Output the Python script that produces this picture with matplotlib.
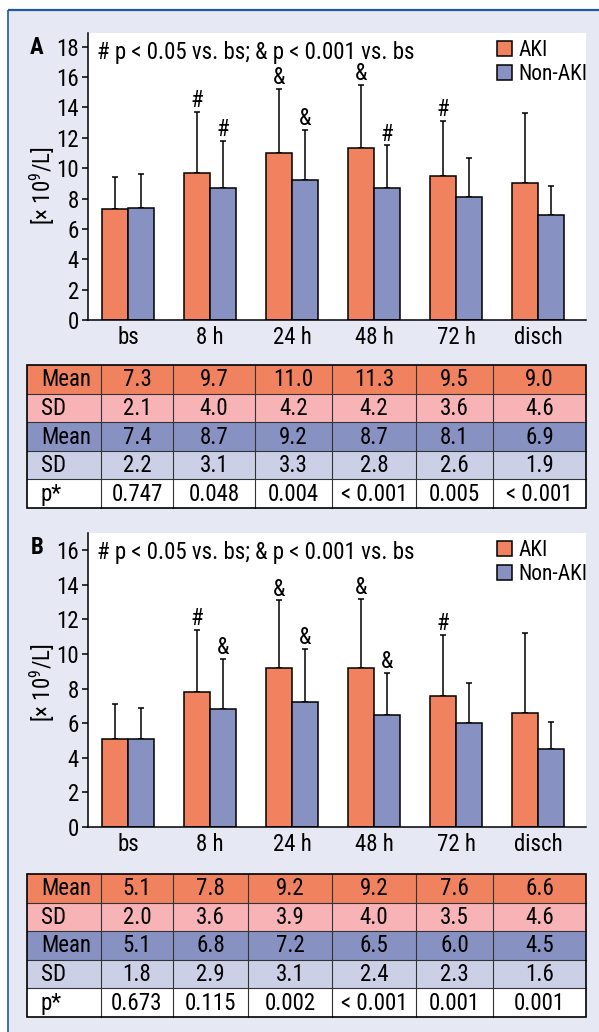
import matplotlib
matplotlib.use("Agg")
import matplotlib.pyplot as plt
from matplotlib.patches import Rectangle, Patch
import numpy as np

plt.rcParams['font.family'] = ['Roboto Condensed', 'Liberation Sans', 'DejaVu Sans']
plt.rcParams['mathtext.fontset'] = 'custom'
plt.rcParams['mathtext.rm'] = 'Roboto Condensed'

# ---------------- data ----------------
categories = ["bs", "8 h", "24 h", "48 h", "72 h", "disch"]

a_aki_mean = [7.3, 9.7, 11.0, 11.3, 9.5, 9.0]
a_aki_sd = [2.1, 4.0, 4.2, 4.2, 3.6, 4.6]
a_non_mean = [7.4, 8.7, 9.2, 8.7, 8.1, 6.9]
a_non_sd = [2.2, 3.1, 3.3, 2.8, 2.6, 1.9]
a_p = ["0.747", "0.048", "0.004", "< 0.001", "0.005", "< 0.001"]
a_aki_marks = ["", "#", "&", "&", "#", ""]
a_non_marks = ["", "#", "&", "#", "", ""]

b_aki_mean = [5.1, 7.8, 9.2, 9.2, 7.6, 6.6]
b_aki_sd = [2.0, 3.6, 3.9, 4.0, 3.5, 4.6]
b_non_mean = [5.1, 6.8, 7.2, 6.5, 6.0, 4.5]
b_non_sd = [1.8, 2.9, 3.1, 2.4, 2.3, 1.6]
b_p = ["0.673", "0.115", "0.002", "< 0.001", "0.001", "0.001"]
b_aki_marks = ["", "#", "&", "&", "#", ""]
b_non_marks = ["", "&", "&", "&", "", ""]

yticks_a = [0, 2, 4, 6, 8, 10, 12, 14, 16, 18]
yticks_b = [0, 2, 4, 6, 8, 10, 12, 14, 16]
series_names = ["AKI", "Non-AKI"]
note = "# p < 0.05 vs. bs; & p < 0.001 vs. bs"
ylabel = "[× 10$^{9}$/L]"

# ---------------- style ----------------
W, H = 599, 1032
C_AKI = "#f0825f"
C_NON = "#8792c3"
C_AKI_SD = "#f7b3b6"
C_NON_SD = "#cbd0e7"
C_BG = "#e6e8f4"
C_BLUE = "#1f58a5"
FS = 16.5
FT = 16.5
FL = 15.5

fig = plt.figure(figsize=(W / 100, H / 100), dpi=100)
fig.patch.set_facecolor("white")

bg = fig.add_axes([0, 0, 1, 1], zorder=-5)
bg.set_xlim(0, W)
bg.set_ylim(H, 0)
bg.axis("off")
bg.add_patch(Rectangle((8, 10), W - 8, H - 10, facecolor=C_BG, edgecolor="none"))
bg.plot([8, W], [10, 10], color=C_BLUE, lw=1.6, solid_capstyle="butt")
bg.plot([8, 8], [10, H], color=C_BLUE, lw=1.2, solid_capstyle="butt")


def px_axes(x0, y0, x1, y1):
    return fig.add_axes([x0 / W, 1 - y1 / H, (x1 - x0) / W, (y1 - y0) / H])


def draw_panel(top, bottom, ymax, yticks, aki_m, aki_s, non_m, non_s, aki_mk, non_mk,
               letter, ylab_y):
    ax = px_axes(88, top, 586, bottom)
    x = np.arange(len(categories))
    w = 0.317
    ax.bar(x - w / 2, aki_m, width=w, color=C_AKI, edgecolor="black", linewidth=1.1, zorder=2)
    ax.bar(x + w / 2, non_m, width=w, color=C_NON, edgecolor="black", linewidth=1.1, zorder=2)
    ax.errorbar(x - w / 2, aki_m, yerr=[np.zeros(len(x)), aki_s], fmt="none",
                ecolor="black", elinewidth=1.1, capsize=2.5, capthick=1.1, zorder=1)
    ax.errorbar(x + w / 2, non_m, yerr=[np.zeros(len(x)), non_s], fmt="none",
                ecolor="black", elinewidth=1.1, capsize=2.5, capthick=1.1, zorder=1)
    for i in range(len(x)):
        if aki_mk[i]:
            ax.annotate(aki_mk[i], (x[i] - w / 2, aki_m[i] + aki_s[i]), xytext=(0, 3.5),
                        textcoords="offset points", ha="center", va="baseline", fontsize=FS)
        if non_mk[i]:
            ax.annotate(non_mk[i], (x[i] + w / 2, non_m[i] + non_s[i]), xytext=(0, 3.5),
                        textcoords="offset points", ha="center", va="baseline", fontsize=FS)
    ax.set_xlim(-0.488, 5.585)
    ax.set_ylim(0, ymax)
    ax.set_xticks(x)
    ax.set_xticklabels(categories, fontsize=FS)
    ax.set_yticks(yticks)
    ax.set_yticklabels([str(t) for t in yticks], fontsize=FS)
    ax.tick_params(axis="x", length=0, pad=4)
    ax.tick_params(axis="y", length=4.5, width=1.1, pad=2, direction="out")
    for s in ["top", "right"]:
        ax.spines[s].set_visible(False)
    ax.spines["left"].set_linewidth(1.1)
    ax.spines["bottom"].set_linewidth(1.1)
    ax.set_facecolor("white")
    handles = [Patch(facecolor=C_AKI, edgecolor="black", linewidth=1.1),
               Patch(facecolor=C_NON, edgecolor="black", linewidth=1.1)]
    ax.legend(handles, series_names, loc="upper left", frameon=False, fontsize=FL,
              bbox_to_anchor=(497 / W, 1 - (top + 7) / H), bbox_transform=fig.transFigure,
              borderpad=0, borderaxespad=0, handlelength=0.7, handleheight=0.7,
              handletextpad=0.3, labelspacing=0.15)
    fig.text(97 / W, 1 - (top + 19) / H, note, fontsize=FS, ha="left", va="center")
    fig.text(37 / W, 1 - (top + 14) / H, letter, fontsize=FS, fontweight="bold",
             ha="center", va="center")
    fig.text(42 / W, 1 - ylab_y / H, ylabel, fontsize=FS,
             rotation=90, ha="center", va="center")
    return ax


def draw_table(top, bottom, cols, aki_m, aki_s, non_m, non_s, pvals):
    rows = [("Mean", [f"{v:.1f}" for v in aki_m], C_AKI),
            ("SD", [f"{v:.1f}" for v in aki_s], C_AKI_SD),
            ("Mean", [f"{v:.1f}" for v in non_m], C_NON),
            ("SD", [f"{v:.1f}" for v in non_s], C_NON_SD),
            ("p*", pvals, "white")]
    rh = (bottom - top) / len(rows)
    for r, (lab, vals, col) in enumerate(rows):
        y0 = top + r * rh
        bg.add_patch(Rectangle((cols[0], y0), cols[-1] - cols[0], rh, facecolor=col,
                               edgecolor="none", zorder=1))
        bg.text(41, y0 + rh / 2 + 0.5, lab, fontsize=FT, ha="left", va="center", zorder=3)
        for c, v in enumerate(vals):
            bg.text((cols[c + 1] + cols[c + 2]) / 2, y0 + rh / 2 + 0.5, v, fontsize=FT,
                    ha="center", va="center", zorder=3)
    for r in range(1, len(rows)):
        y = top + r * rh
        bg.plot([cols[0], cols[-1]], [y, y], color="#333333", lw=0.8, zorder=2)
    for c in cols[1:-1]:
        bg.plot([c, c], [top, bottom], color="#333333", lw=0.8, zorder=2)
    bg.add_patch(Rectangle((cols[0], top), cols[-1] - cols[0], bottom - top,
                           facecolor="none", edgecolor="black", lw=1.2, zorder=4))


draw_panel(33, 320, 18.9, yticks_a, a_aki_mean, a_aki_sd, a_non_mean, a_non_sd,
           a_aki_marks, a_non_marks, "A", 186)
draw_panel(533, 827, 17.0, yticks_b, b_aki_mean, b_aki_sd, b_non_mean, b_non_sd,
           b_aki_marks, b_non_marks, "B", 683)

draw_table(365, 508, [27, 101, 173, 255, 332, 416, 493, 586],
           a_aki_mean, a_aki_sd, a_non_mean, a_non_sd, a_p)
draw_table(874, 1017, [27, 101, 173, 248, 332, 416, 493, 586],
           b_aki_mean, b_aki_sd, b_non_mean, b_non_sd, b_p)

fig.savefig("out.png", dpi=100)
